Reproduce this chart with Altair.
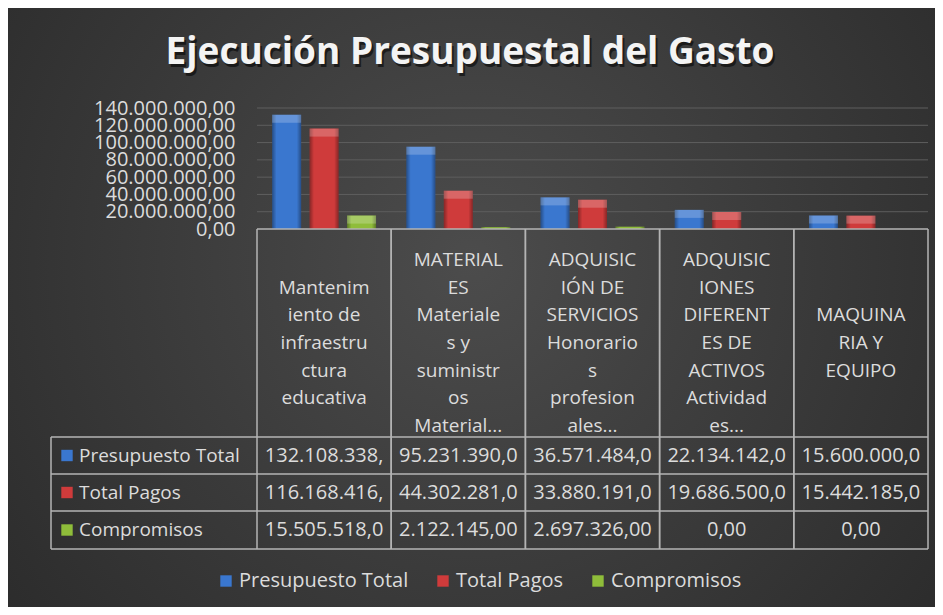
import altair as alt
import pandas as pd

# ---------------- data ----------------
categories = [
    "Mantenimiento de infraestructura educativa",
    "MATERIALES Materiales y suministros Material...",
    "ADQUISICIÓN DE SERVICIOS Honorarios profesionales...",
    "ADQUISICIONES DIFERENTES DE ACTIVOS Actividades...",
    "MAQUINARIA Y EQUIPO",
]
header_lines = [
    ["Mantenim", "iento de", "infraestru", "ctura", "educativa"],
    ["MATERIAL", "ES", "Materiale", "s y", "suministr", "os", "Material..."],
    ["ADQUISIC", "IÓN DE", "SERVICIOS", "Honorario", "s", "profesion", "ales..."],
    ["ADQUISIC", "IONES", "DIFERENT", "ES DE", "ACTIVOS", "Actividad", "es..."],
    ["MAQUINA", "RIA Y", "EQUIPO"],
]
series = ["Presupuesto Total", "Total Pagos", "Compromisos"]
presupuesto = [132108338, 95231390, 36571484, 22134142, 15600000]
pagos = [116168416, 44302281, 33880191, 19686500, 15442185]
compromisos = [15505518, 2122145, 2697326, 0, 0]
y_ticks = [0, 20000000, 40000000, 60000000, 80000000, 100000000, 120000000, 140000000]
colors = ["#3a77cf", "#cf3b3b", "#8fbd3a"]
title_text = "Ejecución Presupuestal del Gasto"

rows = []
for name, vals in zip(series, [presupuesto, pagos, compromisos]):
    for c, v in zip(categories, vals):
        rows.append({"cat": c, "series": name, "value": v})
df = pd.DataFrame(rows)
hdr = pd.DataFrame({"cat": categories, "label": ["\n".join(l) for l in header_lines]})
ticks_df = pd.DataFrame({"value": y_ticks})

# ---------------- layout ----------------
W, H = 671, 121
FONT = "Open Sans"
TXT = "#dcdcdc"
LINE = "#b4b4b4"
ROW_LINES = [329, 366, 403, 441]
ROW_CENTERS = [347.5, 384.5, 422]
TABLE_LEFT = -206
HDR_CENTER = 235
LH = 27.7

es_fmt = ("replace(replace(replace(format(datum.value, ',.2f'), regexp(',', 'g'), '#'),"
          " regexp('[.]', 'g'), ','), regexp('#', 'g'), '.')")

x_scale = alt.Scale(domain=categories, paddingInner=0, paddingOuter=0)
x_enc = alt.X("cat:N", sort=categories, scale=x_scale, axis=None)
xoff = alt.XOffset("series:N", sort=series,
                   scale=alt.Scale(domain=series, paddingInner=0.227, paddingOuter=0.405))
y_scale = alt.Scale(domain=[0, 140000000], nice=False)
y_axis = alt.Axis(values=y_ticks, labelExpr=es_fmt, grid=False, domain=False, ticks=False,
                  labelFontSize=20, labelFont=FONT, labelColor=TXT, labelPadding=22,
                  labelOverlap=False, labelBaseline="middle", title=None, zindex=2)
y_enc = alt.Y("value:Q", scale=y_scale, axis=y_axis, title=None)

one = alt.Data(values=[{"k": 1}])

bg = alt.Chart(one).mark_rect(
    fill=alt.RadialGradient(
        gradient="radial",
        stops=[alt.GradientStop(offset=0, color="#4c4c4c"),
               alt.GradientStop(offset=1, color="#262626")],
        x1=0.5, y1=0.45, x2=0.5, y2=0.45, r1=0, r2=0.75),
).encode(x=alt.value(-249), x2=alt.value(W + 7), y=alt.value(-100), y2=alt.value(H + 378))

title_shadow = alt.Chart(one).mark_text(
    text=title_text, font=FONT, fontSize=37, fontWeight="bold", color="#000000",
    opacity=0.55, align="center", baseline="middle",
).encode(x=alt.value(215), y=alt.value(-52))
title = alt.Chart(one).mark_text(
    text=title_text, font=FONT, fontSize=37, fontWeight="bold", color="#f4f4f4",
    align="center", baseline="middle",
).encode(x=alt.value(213), y=alt.value(-55))

grid = alt.Chart(ticks_df).transform_filter("datum.value > 0").mark_rule(
    color="#5e5e5e", strokeWidth=1,
).encode(y=y_enc, x=alt.value(0), x2=alt.value(W))

bars = alt.Chart(df).mark_bar().encode(
    x=x_enc, xOffset=xoff, y=y_enc,
    color=alt.Color("series:N", sort=series,
                    scale=alt.Scale(domain=series, range=colors),
                    legend=alt.Legend(orient="none", legendX=-41, legendY=463,
                                      direction="horizontal", title=None,
                                      labelFontSize=20, labelFont=FONT, labelColor=TXT,
                                      symbolType="square", symbolSize=130,
                                      symbolStrokeWidth=0, columnPadding=24,
                                      labelOffset=3, padding=0, labelLimit=300)),
)

shade = alt.Chart(df).mark_bar(
    fill=alt.LinearGradient(
        gradient="linear",
        stops=[alt.GradientStop(offset=0, color="rgba(0,0,0,0.35)"),
               alt.GradientStop(offset=0.15, color="rgba(0,0,0,0)"),
               alt.GradientStop(offset=0.85, color="rgba(0,0,0,0)"),
               alt.GradientStop(offset=1, color="rgba(0,0,0,0.35)")],
        x1=0, x2=1, y1=0, y2=0),
).encode(x=x_enc, xOffset=xoff, y=y_enc)

highlight = alt.Chart(df).transform_filter("datum.value > 9000000").mark_tick(
    thickness=8, size=29, yOffset=4, color="#ffffff", opacity=0.22,
).encode(x=x_enc, xOffset=xoff, y=y_enc)

layers = [bg, title_shadow, title, grid, bars, shade, highlight]

# table grid
layers.append(alt.Chart(one).mark_rule(color=LINE, strokeWidth=1.5).encode(
    x=alt.value(0), x2=alt.value(W), y=alt.value(H)))
for yy in ROW_LINES:
    layers.append(alt.Chart(one).mark_rule(color=LINE, strokeWidth=1.5).encode(
        x=alt.value(TABLE_LEFT), x2=alt.value(W), y=alt.value(yy)))
layers.append(alt.Chart(hdr).mark_rule(color=LINE, strokeWidth=1.5).encode(
    x=alt.X("cat:N", sort=categories, bandPosition=0, scale=x_scale, axis=None),
    y=alt.value(H), y2=alt.value(ROW_LINES[-1])))
layers.append(alt.Chart(hdr).mark_rule(color=LINE, strokeWidth=1.5).encode(
    x=alt.X("cat:N", sort=categories, bandPosition=1, scale=x_scale, axis=None),
    y=alt.value(H), y2=alt.value(ROW_LINES[-1])))
layers.append(alt.Chart(one).mark_rule(color=LINE, strokeWidth=1.5).encode(
    x=alt.value(TABLE_LEFT), y=alt.value(ROW_LINES[0]), y2=alt.value(ROW_LINES[-1])))

# header text (one layer per category so each block is vertically centred)
for c, lines in zip(categories, header_lines):
    top = HDR_CENTER - (len(lines) - 1) / 2 * LH
    layers.append(alt.Chart(hdr).transform_filter(alt.datum.cat == c).mark_text(
        lineBreak="\n", lineHeight=LH, fontSize=19, font=FONT, color=TXT,
        align="center", baseline="middle",
    ).encode(x=x_enc, y=alt.value(top), text="label:N"))

# table rows
for i, name in enumerate(series):
    yc = ROW_CENTERS[i]
    layers.append(alt.Chart(one).mark_square(size=130, color=colors[i], opacity=1).encode(
        x=alt.value(TABLE_LEFT + 16), y=alt.value(yc)))
    layers.append(alt.Chart(one).mark_text(
        text=name, fontSize=19, font=FONT, color=TXT, align="left", baseline="middle",
    ).encode(x=alt.value(TABLE_LEFT + 28), y=alt.value(yc)))
    layers.append(alt.Chart(df).transform_filter(alt.datum.series == name).transform_calculate(
        txt="substring(" + es_fmt + ", 0, 12)"
    ).mark_text(fontSize=20, font=FONT, color=TXT, align="center", baseline="middle").encode(
        x=x_enc, y=alt.value(yc), text="txt:N"))

chart = alt.layer(*layers).properties(
    width=W, height=H,
    padding={"left": 249, "top": 100, "right": 7, "bottom": 378},
    autosize=alt.AutoSizeParams(type="none"),
    background="#2a2a2a",
).configure_view(stroke=None)

chart.save("out.html", embed_options={"renderer": "svg", "actions": False})
